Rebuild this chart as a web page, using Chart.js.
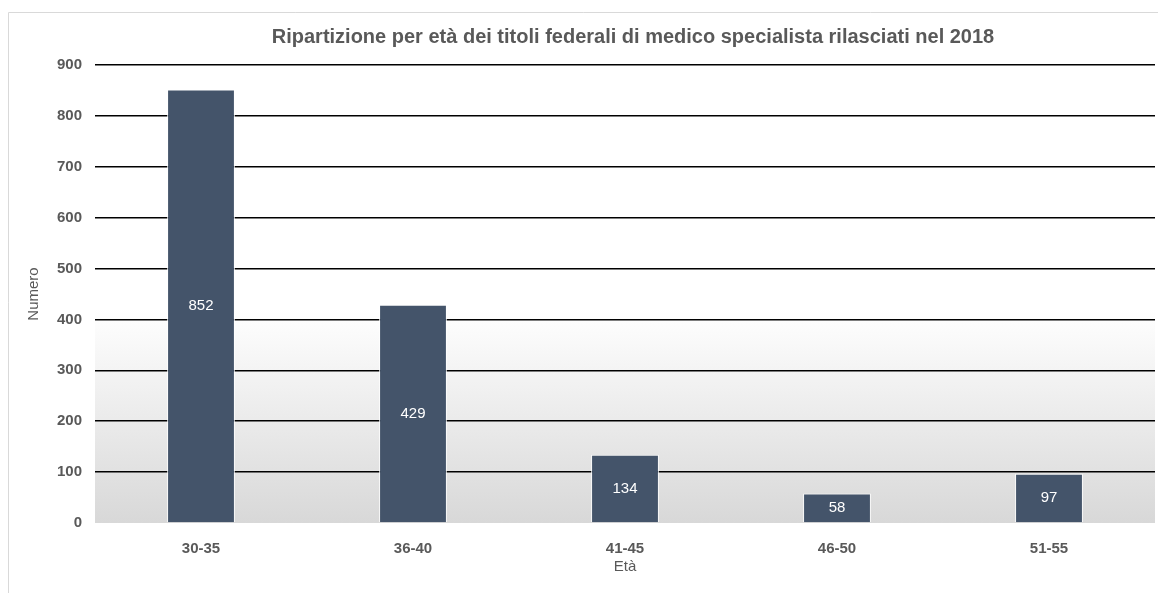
<!DOCTYPE html>
<html>
<head>
<meta charset="utf-8">
<script src="https://cdn.jsdelivr.net/npm/chart.js@4"></script>
<style>
  html, body { margin: 0; padding: 0; background: #fff; }
  #wrap { width: 1158px; height: 593px; position: relative; }
</style>
</head>
<body>
<div id="wrap"><canvas id="chart"></canvas></div>
<script>
const categories = ['30-35', '36-40', '41-45', '46-50', '51-55'];
const counts = [852, 429, 134, 58, 97];
const yTicks = [0, 100, 200, 300, 400, 500, 600, 700, 800, 900];

const chartTitle = 'Ripartizione per età dei titoli federali di medico specialista rilasciati nel 2018';
const textGrey = '#595959';
const barColor = '#44546A';
const fontName = '"Liberation Sans", Arial, sans-serif';

// outer frame + gradient plot background
const backdrop = {
	id: 'backdrop',
	beforeDraw(chart) {
		const ctx = chart.ctx;
		const area = chart.chartArea;
		const y = chart.scales.y;
		ctx.save();
		ctx.strokeStyle = '#d9d9d9';
		ctx.lineWidth = 1;
		ctx.beginPath();
		ctx.moveTo(8.5, chart.height);
		ctx.lineTo(8.5, 12.5);
		ctx.lineTo(chart.width, 12.5);
		ctx.stroke();

		const gTop = y.getPixelForValue(420);
		const grad = ctx.createLinearGradient(0, gTop, 0, area.bottom);
		grad.addColorStop(0, '#ffffff');
		grad.addColorStop(1, '#d8d8d8');
		ctx.fillStyle = '#ffffff';
		ctx.fillRect(area.left, area.top, area.right - area.left, area.bottom - area.top);
		ctx.fillStyle = grad;
		ctx.fillRect(area.left, gTop, area.right - area.left, area.bottom - gTop);
		ctx.restore();
	}
};

// title centred over the plot area, and value labels inside the bars
const labels = {
	id: 'labels',
	afterDraw(chart) {
		const ctx = chart.ctx;
		const area = chart.chartArea;
		ctx.save();
		ctx.fillStyle = textGrey;
		ctx.font = 'bold 20px ' + fontName;
		ctx.textAlign = 'center';
		ctx.textBaseline = 'middle';
		ctx.fillText(chartTitle, (area.left + area.right) / 2 + 8, 37);

		ctx.fillStyle = '#ffffff';
		ctx.font = '15px ' + fontName;
		const meta = chart.getDatasetMeta(0);
		meta.data.forEach((bar, i) => {
			ctx.fillText(String(counts[i]), bar.x, (bar.y + bar.base) / 2);
		});
		ctx.restore();
	}
};

new Chart(document.getElementById('chart'), {
	type: 'bar',
	data: {
		labels: categories,
		datasets: [{
			data: counts,
			backgroundColor: barColor,
			borderColor: 'rgba(255,255,255,0.85)',
			borderWidth: 1,
			barPercentage: 0.32,
			categoryPercentage: 1
		}]
	},
	options: {
		responsive: true,
		maintainAspectRatio: false,
		animation: false,
		layout: { padding: { top: 65, right: 3, bottom: 0, left: 0 } },
		plugins: {
			legend: { display: false },
			tooltip: { enabled: false },
			title: { display: false }
		},
		scales: {
			x: {
				afterFit(scale) { scale.height = 70; },
				grid: { display: false, drawTicks: false },
				border: { display: false },
				ticks: {
					color: textGrey,
					padding: 17,
					font: { family: fontName, size: 15, weight: 'bold' }
				},
				title: {
					display: true,
					text: 'Età',
					color: textGrey,
					padding: { top: 0, bottom: 17 },
					font: { family: fontName, size: 15 }
				}
			},
			y: {
				min: 0,
				max: 900,
				afterFit(scale) { scale.width = 95; },
				afterBuildTicks(scale) { scale.ticks = yTicks.map(v => ({ value: v })); },
				grid: {
					drawTicks: false,
					lineWidth: 1.5,
					color: ctx => ctx.tick && ctx.tick.value === 0 ? 'rgba(0,0,0,0)' : '#000000'
				},
				border: { display: false },
				ticks: {
					color: textGrey,
					padding: 13,
					font: { family: fontName, size: 15, weight: 'bold' }
				},
				title: {
					display: true,
					text: 'Numero',
					color: textGrey,
					padding: { top: 25, bottom: 0 },
					font: { family: fontName, size: 15 }
				}
			}
		}
	},
	plugins: [backdrop, labels]
});
</script>
</body>
</html>
